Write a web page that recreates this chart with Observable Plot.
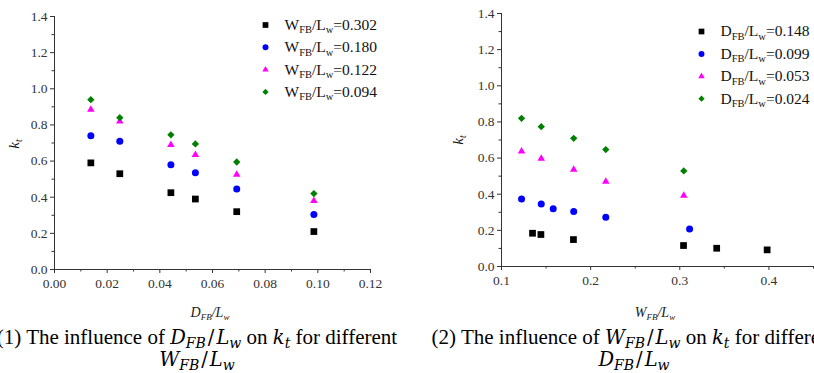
<!DOCTYPE html>
<html><head><meta charset="utf-8">
<script src="https://cdn.jsdelivr.net/npm/d3@7"></script>
<script src="https://cdn.jsdelivr.net/npm/@observablehq/plot@0.6"></script>
<style>
body{margin:0;background:#fff;}
#wrap{position:relative;width:814px;height:373px;overflow:hidden;font-family:"Liberation Serif","DejaVu Serif",serif;background:#fff;}
.panel{position:absolute;top:0;}
.lab{position:absolute;white-space:nowrap;color:#111;}
.axt{font-size:14px;line-height:14px;font-style:italic;color:#222;transform:translate(-50%,-50%);}
.axt sub{font-size:9px;vertical-align:-3px;line-height:0;}
.kt{font-size:15px;font-style:italic;transform:translate(-50%,-50%) rotate(-90deg);}
.kt sub{font-size:10px;vertical-align:-3px;line-height:0;}
.cap{font-size:21px;line-height:20.5px;text-align:center;width:520px;color:#000;}
.cap .m{font-family:"DejaVu Serif",serif;font-style:italic;font-size:19.5px;}
.cap .m sub{font-size:14px;vertical-align:-4px;line-height:0;}
.cap .m .sl{font-style:normal;padding:0 2px;}
</style></head><body><div id="wrap"></div>
<script>
// ---- Panel (1): kt vs D_FB/L_w for different W_FB/L_w ----
const leftX = [0.0138, 0.0248, 0.0442, 0.0535, 0.0692, 0.0985];
const kt_W302 = [0.59, 0.53, 0.425, 0.39, 0.32, 0.21];
const kt_W180 = [0.74, 0.71, 0.58, 0.535, 0.445, 0.305];
const kt_W122 = [0.885, 0.82, 0.69, 0.635, 0.525, 0.38];
const kt_W094 = [0.94, 0.84, 0.745, 0.695, 0.595, 0.42];
const leftLegend = ["0.302", "0.180", "0.122", "0.094"];

// ---- Panel (2): kt vs W_FB/L_w for different D_FB/L_w ----
const x_D148 = [0.1348, 0.1442, 0.1807, 0.3042, 0.3414, 0.398];
const kt_D148 = [0.184, 0.177, 0.149, 0.116, 0.101, 0.092];
const x_D099 = [0.1225, 0.1446, 0.158, 0.181, 0.217, 0.311];
const kt_D099 = [0.374, 0.346, 0.32, 0.304, 0.273, 0.208];
const x_D053 = [0.1225, 0.1446, 0.181, 0.217, 0.3045];
const kt_D053 = [0.637, 0.597, 0.536, 0.47, 0.392];
const x_D024 = [0.1225, 0.1446, 0.181, 0.217, 0.3045];
const kt_D024 = [0.82, 0.774, 0.709, 0.647, 0.529];
const rightLegend = ["0.148", "0.099", "0.053", "0.024"];

// ---- ticks ----
const yTicks = [0, 0.2, 0.4, 0.6, 0.8, 1.0, 1.2, 1.4];
const yMinor = [0.1, 0.3, 0.5, 0.7, 0.9, 1.1, 1.3];
const leftXTicks = [0, 0.02, 0.04, 0.06, 0.08, 0.10, 0.12];
const leftXMinor = [0.01, 0.03, 0.05, 0.07, 0.09, 0.11];
const rightXTicks = [0.1, 0.2, 0.3, 0.4];
const rightXMinor = [0.15, 0.25, 0.35, 0.45];

// series styles: black squares, blue circles, magenta triangles, green diamonds
const styles = [
  {symbol: "square", fill: "#000000", r: 3.8},
  {symbol: "circle", fill: "#0000ff", r: 3.5},
  {symbol: "triangle", fill: "#ff00ff", r: 2.8},
  {symbol: "diamond2", fill: "#008000", r: 3.3}
];

const font = '"Liberation Serif","DejaVu Serif",serif';

function axes(xTicks, xMinor, xFmt) {
  const common = {stroke: "#333", color: "#333"};
  return [
    Plot.axisX({ticks: xTicks, tickFormat: d3.format(xFmt), tickSize: 4, tickPadding: 5, label: null, ...common}),
    Plot.axisX({ticks: xMinor, tickFormat: () => "", tickSize: 2.5, label: null, ...common}),
    Plot.axisY({ticks: yTicks, tickFormat: d3.format(".1f"), tickSize: 4, tickPadding: 3, label: null, ...common}),
    Plot.axisY({ticks: yMinor, tickFormat: () => "", tickSize: 2.5, label: null, ...common})
  ];
}

function legendMarks(prefix, values, dx0, dy0, step) {
  const marks = [];
  values.forEach((v, i) => {
    const s = styles[i];
    marks.push(Plot.dot([v], {frameAnchor: "top-left", dx: dx0, dy: dy0 + i * step, symbol: s.symbol, fill: s.fill, r: s.r * 0.85, stroke: "none"}));
    marks.push(Plot.text([v], {frameAnchor: "top-left", dx: dx0 + 19, dy: dy0 + i * step, text: d => prefix + "|" + d, textAnchor: "start", lineAnchor: "middle", fontSize: 15.5, fill: "#111", className: "legtxt"}));
  });
  return marks;
}

function seriesMarks(list) {
  return list.map(([xs, ys], i) => Plot.dot(ys, {x: xs, y: ys, symbol: styles[i].symbol, fill: styles[i].fill, r: styles[i].r, stroke: "none"}));
}

const left = Plot.plot({
  width: 410, height: 300,
  marginLeft: 54, marginRight: 40, marginTop: 16, marginBottom: 31,
  x: {domain: [0, 0.12]},
  y: {domain: [0, 1.4]},
  style: {fontFamily: font, fontSize: "13.5px", color: "#333", background: "transparent"},
  marks: [
    ...axes(leftXTicks, leftXMinor, ".2f"),
    Plot.ruleY([0], {stroke: "#333"}),
    Plot.ruleX([0], {stroke: "#333"}),
    ...seriesMarks([[leftX, kt_W302], [leftX, kt_W180], [leftX, kt_W122], [leftX, kt_W094]]),
    ...legendMarks("W", leftLegend, 211, 8.5, 22.3)
  ]
});

const right = Plot.plot({
  width: 404, height: 300,
  marginLeft: 91, marginRight: 1, marginTop: 13, marginBottom: 34,
  x: {domain: [0.1, 0.45]},
  y: {domain: [0, 1.4]},
  style: {fontFamily: font, fontSize: "13.5px", color: "#333", background: "transparent"},
  marks: [
    ...axes(rightXTicks, rightXMinor, ".1f"),
    Plot.ruleY([0], {stroke: "#333"}),
    Plot.ruleX([0.1], {stroke: "#333"}),
    ...seriesMarks([[x_D148, kt_D148], [x_D099, kt_D099], [x_D053, kt_D053], [x_D024, kt_D024]]),
    ...legendMarks("D", rightLegend, 200, 18, 22.4)
  ]
});

// subscript formatting of legend labels
for (const svg of [left, right]) {
  svg.querySelectorAll(".legtxt text").forEach(t => {
    const [p, v] = t.textContent.split("|");
    t.innerHTML = `${p}<tspan dy="3.5" font-size="10.5">FB</tspan><tspan dy="-3.5">/L</tspan><tspan dy="3.5" font-size="10.5">w</tspan><tspan dy="-3.5">=${v}</tspan>`;
  });
}

const wrap = document.getElementById("wrap");
left.classList.add("panel"); left.style.left = "0px";
right.classList.add("panel"); right.style.left = "410px";
wrap.appendChild(left);
wrap.appendChild(right);

function addLabel(html, cls, x, y) {
  const d = document.createElement("div");
  d.className = "lab " + cls;
  d.innerHTML = html;
  d.style.left = x + "px";
  d.style.top = y + "px";
  wrap.appendChild(d);
  return d;
}
const frac = (a) => `${a}<sub>FB</sub>/L<sub>w</sub>`;
const mfrac = (a) => `<span class="m">${a}<sub>FB</sub><span class="sl">/</span>L<sub>w</sub></span>`;
addLabel(frac("D"), "axt", 210, 313);
addLabel(frac("W"), "axt", 655, 313);
addLabel("k<sub>t</sub>", "kt", 14, 144);
addLabel("k<sub>t</sub>", "kt", 458, 140);
addLabel(`(1) The influence of ${mfrac("D")} on <span class="m">k<sub>t</sub></span> for different<br>${mfrac("W")}`, "cap", 197 - 260, 327);
addLabel(`(2) The influence of ${mfrac("W")} on <span class="m">k<sub>t</sub></span> for different<br>${mfrac("D")}`, "cap", 634 - 260, 327);
</script></body></html>
